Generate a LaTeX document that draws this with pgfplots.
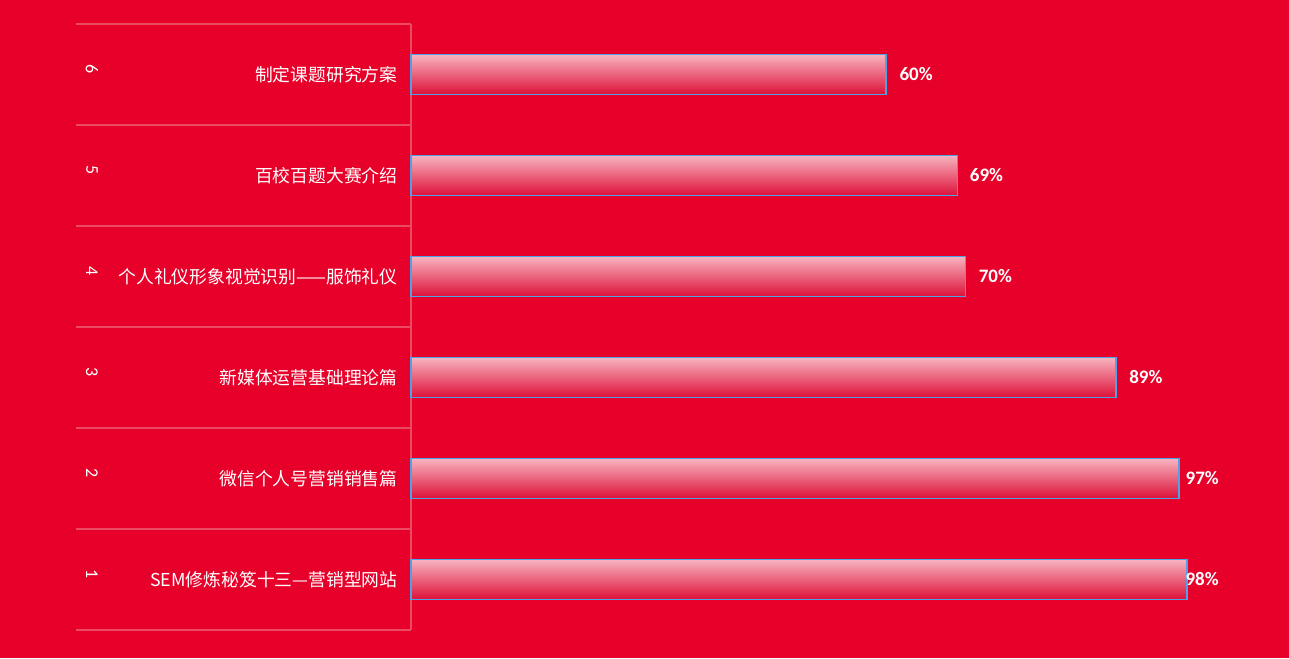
\documentclass[border=0pt]{standalone}
\usepackage{pgfplots}
\pgfplotsset{compat=1.18}
\usetikzlibrary{calc}
\usepackage{fontspec}
\setmainfont{Carlito}
\newfontfamily\cjk{Noto Sans CJK SC}
\definecolor{bg}{HTML}{E6002A}
\definecolor{gridc}{HTML}{EB4A63}
\definecolor{barline}{HTML}{4DA3E8}
\definecolor{bartop}{HTML}{F7B3C0}
\definecolor{barmid}{HTML}{EE6F87}
\definecolor{barbot}{HTML}{DE1038}

\pgfplotsset{
  mybar/.style={xbar, bar width=20pt, bar shift=0pt, draw=none,
    top color=bartop, middle color=barmid, bottom color=barbot,
    point meta=x,
    nodes near coords={\pgfmathprintnumber{\pgfplotspointmeta}\%},
    nodes near coords style={anchor=west, inner sep=0pt, xshift=#1,
       font=\bfseries\fontsize{9.5}{10}\selectfont, text=white,
       /pgf/number format/assume math mode=true}},
  myline/.style={xbar, bar width=20pt, bar shift=0pt, draw=barline, fill=none, line width=0.8pt},
}

\begin{document}
\begin{tikzpicture}
\fill[bg] (0,0) rectangle (644.5pt,329pt);
\begin{axis}[
  at={(205.5pt,14pt)}, anchor=south west,
  scale only axis, width=396pt, height=303pt,
  xmin=0, xmax=100, ymin=0.5, ymax=6.5,
  clip=false,
  hide x axis,
  axis y line*=left,
  y axis line style={draw=gridc, line width=0.7pt, -},
  ytick={0.5,1.5,...,6.5}, yticklabels={},
  tick align=outside, major tick length=167.5pt,
  ytick style={draw=gridc, line width=0.7pt},
]
\addplot[mybar=-1pt]  coordinates {(98,1)};
\addplot[mybar=3pt]   coordinates {(97,2)};
\addplot[mybar=6.5pt] coordinates {(89,3)};
\addplot[mybar=6.5pt] coordinates {(70,4)};
\addplot[mybar=6pt]   coordinates {(69,5)};
\addplot[mybar=6.5pt] coordinates {(60,6)};
\addplot[myline] coordinates {(98,1) (97,2) (89,3) (70,4) (69,5) (60,6)};

\begin{scope}[every node/.style={anchor=east, inner sep=0pt, text=white, font=\cjk\fontsize{8.9}{10}\selectfont}]
\node[xshift=-6.5pt] at (axis cs:0,6) {制定课题研究方案};
\node[xshift=-6.5pt] at (axis cs:0,5) {百校百题大赛介绍};
\node[xshift=-6.5pt] at (axis cs:0,4) {个人礼仪形象视觉识别——服饰礼仪};
\node[xshift=-6.5pt] at (axis cs:0,3) {新媒体运营基础理论篇};
\node[xshift=-6.5pt] at (axis cs:0,2) {微信个人号营销销售篇};
\node[xshift=-6.5pt] at (axis cs:0,1) {SEM修炼秘笈十三—营销型网站};
\end{scope}
\begin{scope}[every node/.style={rotate=-90, inner sep=0pt, text=white, font=\fontsize{9}{10}\selectfont}]
\node at ($(axis cs:0,6)+(-159.5pt,2.5pt)$) {6};
\node at ($(axis cs:0,5)+(-159.5pt,2.5pt)$) {5};
\node at ($(axis cs:0,4)+(-159.5pt,2.5pt)$) {4};
\node at ($(axis cs:0,3)+(-159.5pt,2.5pt)$) {3};
\node at ($(axis cs:0,2)+(-159.5pt,2.5pt)$) {2};
\node at ($(axis cs:0,1)+(-159.5pt,2.5pt)$) {1};
\end{scope}
\end{axis}
\end{tikzpicture}
\end{document}
